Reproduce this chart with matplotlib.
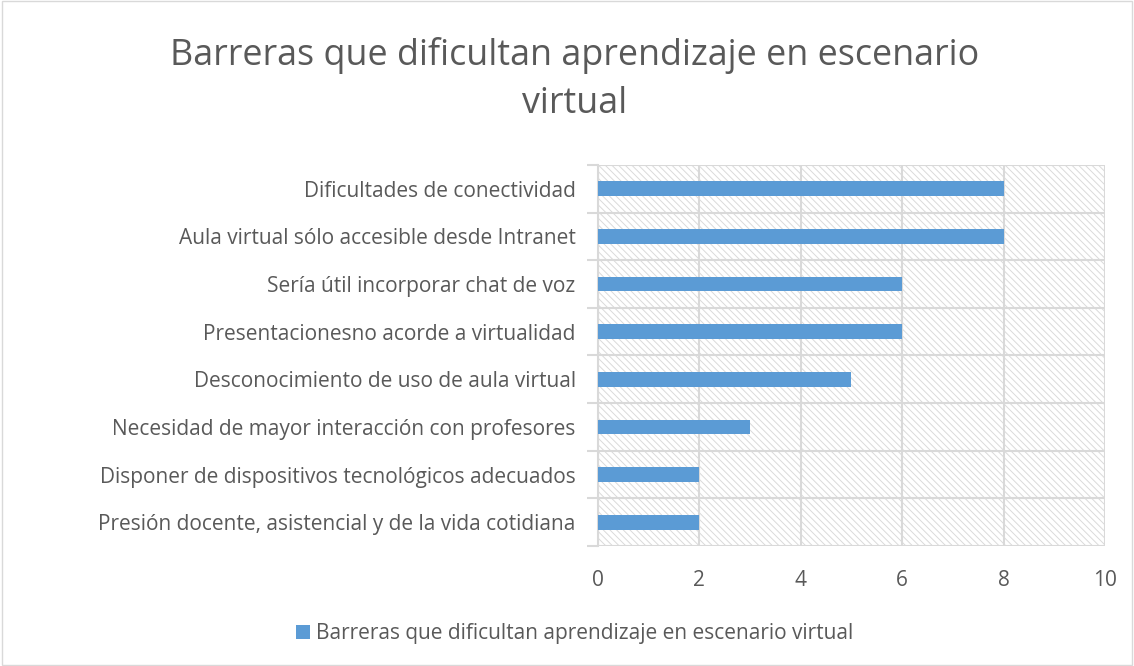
import matplotlib
matplotlib.use("Agg")
import matplotlib.pyplot as plt
from matplotlib.patches import Patch, Rectangle

categorias = [
    "Presión docente, asistencial y de la vida cotidiana",
    "Disponer de dispositivos tecnológicos adecuados",
    "Necesidad de mayor interacción con profesores",
    "Desconocimiento de uso de aula virtual",
    "Presentacionesno acorde a virtualidad",
    "Sería útil incorporar chat de voz",
    "Aula virtual sólo accesible desde Intranet",
    "Dificultades de conectividad",
]
valores = [2, 2, 3, 5, 6, 6, 8, 8]
xticks = [0, 2, 4, 6, 8, 10]
serie = "Barreras que dificultan aprendizaje en escenario virtual"
titulo = "Barreras que dificultan aprendizaje en escenario\nvirtual"

azul = "#5B9BD5"
gris = "#595959"
linea = "#D9D9D9"

plt.rcParams["font.family"] = ["Open Sans", "DejaVu Sans"]
plt.rcParams["hatch.linewidth"] = 0.7

fig = plt.figure(figsize=(11.34, 6.66), dpi=100)
ax = fig.add_axes([0.5273, 0.1802, 0.4471, 0.5721])

# fondo rayado del area de trazado
fondo = Rectangle((0, 0), 1, 1, transform=ax.transAxes, facecolor="white",
                  edgecolor="#DADADA", linewidth=0, hatch="\\\\\\\\\\", zorder=0)
ax.add_patch(fondo)

pos = list(range(len(categorias)))
ax.barh(pos, valores, height=0.31, color=azul, zorder=3)

ax.set_xlim(0, 10)
ax.set_ylim(-0.5, len(categorias) - 0.5)
ax.set_xticks(xticks)
ax.set_yticks(pos)
ax.set_yticklabels(categorias)
ax.set_yticks([p - 0.5 for p in pos] + [len(categorias) - 0.5], minor=True)

ax.grid(axis="x", color=linea, linewidth=1.5, zorder=1)
ax.grid(axis="y", which="minor", color=linea, linewidth=1.5, zorder=1)
ax.set_axisbelow(True)

for s in ["top", "right", "bottom"]:
    ax.spines[s].set_visible(False)
ax.spines["left"].set_color(linea)
ax.spines["left"].set_linewidth(1.5)

ax.tick_params(axis="x", length=0, pad=17, labelsize=15, labelcolor=gris)
ax.tick_params(axis="y", which="major", length=0, pad=16, labelsize=15, labelcolor=gris)
ax.tick_params(axis="y", which="minor", length=8, width=1.5, color=linea)

fig.text(0.507, 0.88, titulo, ha="center", va="center", fontsize=25.8,
         color=gris, linespacing=1.45)

fig.legend(handles=[Patch(facecolor=azul, label=serie)], loc="center",
           bbox_to_anchor=(0.507, 0.049), frameon=False, fontsize=15,
           labelcolor=gris, handlelength=0.65, handleheight=0.65, handletextpad=0.3)

fig.patches.append(Rectangle((0.002, 0.002), 0.996, 0.996, transform=fig.transFigure,
                             fill=False, edgecolor=linea, linewidth=1))

fig.savefig("out.png", dpi=100)
